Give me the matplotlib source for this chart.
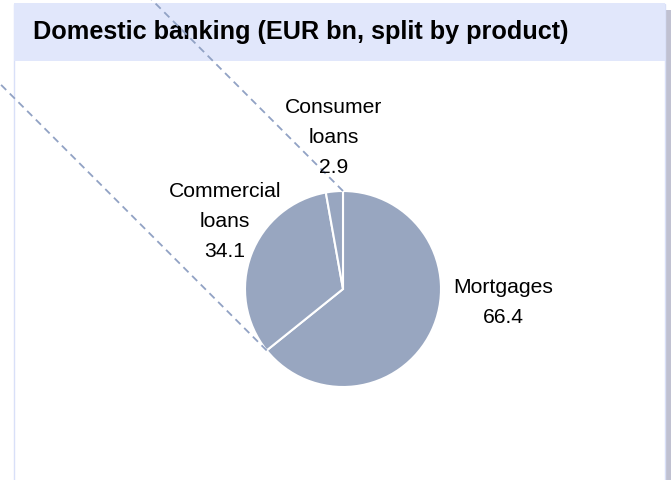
import numpy as np
import matplotlib
matplotlib.use('Agg')
import matplotlib.pyplot as plt
from matplotlib.patches import Rectangle

plt.rcParams['font.family'] = ['Liberation Sans', 'DejaVu Sans']

W, H = 671, 480

title = 'Domestic banking (EUR bn, split by product)'
products = ['Mortgages', 'Commercial\nloans', 'Consumer\nloans']
values = [66.4, 34.1, 2.9]

pie_col = '#98a6c0'
band_col = '#e1e7fb'
edge_col = '#d9e0f8'
lead_col = '#91a2c4'

fig = plt.figure(figsize=(W / 100, H / 100), dpi=100)
ax = fig.add_axes([0, 0, 1, 1])

def py(y):
    # pixel rows run downwards, data y runs upwards
    return H - y

# panel, header band and drop shadow
ax.add_patch(Rectangle((666, py(H)), 5, H - 10, facecolor='#c0c1d1', edgecolor='none', zorder=0))
ax.add_patch(Rectangle((14, py(H + 2)), 651, H - 2, facecolor='white', edgecolor=edge_col, lw=1, zorder=1))
ax.add_patch(Rectangle((14, py(61)), 651, 58, facecolor=band_col, edgecolor='none', zorder=2))
ax.text(33, py(32), title, fontsize=18.2, fontweight='bold', color='black', va='center', ha='left', zorder=3)

# pie, clockwise from 12 o'clock
cx, cy, r = 343, py(289), 98
ax.pie(values, colors=[pie_col] * len(values), startangle=90, counterclock=False,
       center=(cx, cy), radius=r, wedgeprops=dict(edgecolor='white', linewidth=1.5))

# leader lines running off to the upper left from two wedge boundaries
bounds = np.cumsum([0] + values) / sum(values) * 360
for th in [bounds[-1], bounds[1]]:
    t = np.deg2rad(th)
    x0, y0 = cx + r * np.sin(t), cy + r * np.cos(t)
    ax.plot([x0, x0 - 600], [y0, y0 + 600], color=lead_col, lw=1.3,
            linestyle=(0, (4, 2.8)), zorder=5)

# slice labels
label_pos = [(503, 323), (225, 257), (334, 173)]
for name, v, (lx, ly) in zip(products, values, label_pos):
    ax.text(lx, py(ly), f'{name}\n{v:.1f}', fontsize=15.2, ha='center', va='baseline',
            multialignment='center', linespacing=1.72, zorder=6)

ax.set_xlim(0, W)
ax.set_ylim(0, H)
ax.set_aspect('auto')
ax.axis('off')

fig.savefig('out.png', dpi=100)
